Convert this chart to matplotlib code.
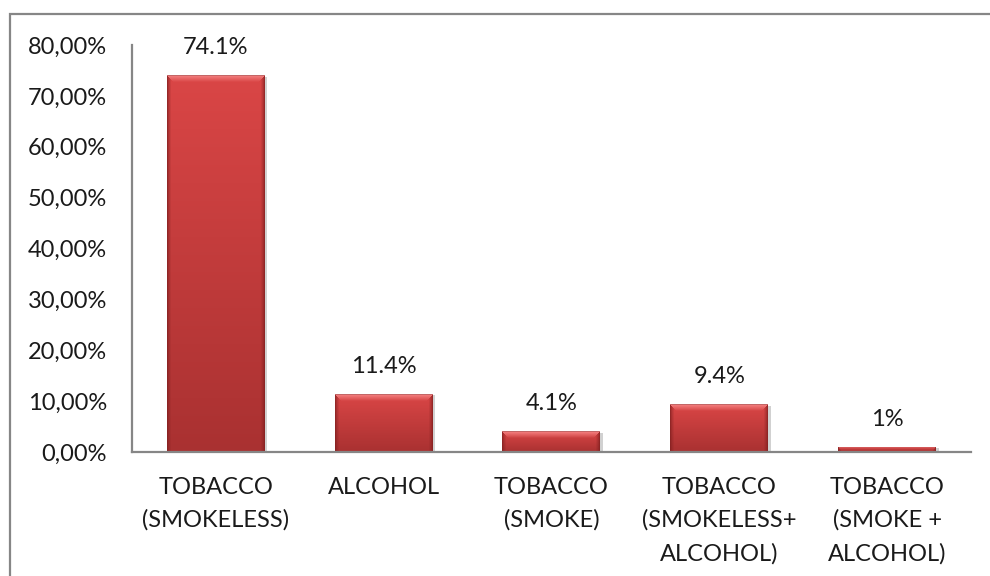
import numpy as np
import matplotlib
matplotlib.use("Agg")
import matplotlib.pyplot as plt
from matplotlib.patches import Rectangle
from matplotlib.colors import to_rgb
import matplotlib.transforms as mtransforms

categories = ["TOBACCO\n(SMOKELESS)", "ALCOHOL", "TOBACCO\n(SMOKE)",
              "TOBACCO\n(SMOKELESS+\nALCOHOL)", "TOBACCO\n(SMOKE +\nALCOHOL)"]
values = [74.1, 11.4, 4.1, 9.4, 1.0]
value_labels = ["74.1%", "11.4%", "4.1%", "9.4%", "1%"]
yticks = [0, 10, 20, 30, 40, 50, 60, 70, 80]
ytick_labels = ["0,00%", "10,00%", "20,00%", "30,00%", "40,00%",
                "50,00%", "60,00%", "70,00%", "80,00%"]

plt.rcParams['font.family'] = ['Lato', 'DejaVu Sans']
FS = 17
GRAY = '#868686'

fig = plt.figure(figsize=(9.9, 5.76), dpi=100)
ax = fig.add_axes([0.1333, 0.2153, 0.8475, 0.7066])
x = np.arange(len(values))
bars = ax.bar(x, values, width=0.584, color='none', edgecolor='none', zorder=3)
ax.set_xlim(-0.5, len(values) - 0.5)
ax.set_ylim(0, 80)

# bevelled red fill for each bar
top_c = np.array(to_rgb('#da4646'))
bot_c = np.array(to_rgb('#a93131'))
light_c = np.array(to_rgb('#f68585'))
dark_c = np.array(to_rgb('#7e1e1e'))
fig.canvas.draw()
for b in bars:
    x0, y0 = b.get_x(), b.get_y()
    w, h = b.get_width(), b.get_height()
    (px0, py0), (px1, py1) = ax.transData.transform([(x0, y0), (x0 + w, y0 + h)])
    wpx = max(int(round(px1 - px0)), 2)
    hpx = max(int(round(py1 - py0)), 2)
    rows = np.arange(hpx)[:, None] + 0.5
    cols = np.arange(wpx)[None, :] + 0.5
    t = rows / hpx
    img = top_c * (1 - t[..., None]) + bot_c * t[..., None]
    img = np.broadcast_to(img, (hpx, wpx, 3)).copy()
    dside = np.minimum(cols, wpx - cols) * np.ones_like(rows)
    dtop = rows * np.ones_like(cols)
    s = min(7.0, hpx * 0.45)
    top_mask = (dtop < s) & (dtop <= dside)
    side_mask = (dside < 4.5) & (dside < dtop)
    f_top = np.clip(dtop / s, 0, 1)[..., None]
    img = np.where(top_mask[..., None], light_c * (1 - f_top) + img * f_top, img)
    f_side = np.clip(dside / 4.5, 0, 1)[..., None] ** 0.6
    img = np.where(side_mask[..., None], dark_c * (1 - f_side) + img * f_side, img)
    # thin darker outline along the top edge
    img[0, :, :] = img[0, :, :] * 0.8
    # soft shadow to the right and below
    shadow = Rectangle((x0, y0), w, h,
                       transform=mtransforms.offset_copy(ax.transData, fig=fig, x=2.5, y=-1.5, units='dots'),
                       facecolor='#000000', alpha=0.18, edgecolor='none', zorder=2)
    ax.add_patch(shadow)
    im = ax.imshow(img, extent=(x0, x0 + w, y0, y0 + h), origin='upper',
                   aspect='auto', interpolation='bilinear', zorder=3)
    im.set_clip_path(b)

ax.set_xlim(-0.5, len(values) - 0.5)
ax.set_ylim(0, 80)

for xi, v, lbl in zip(x, values, value_labels):
    ax.annotate(lbl, (xi, v), xytext=(0, 12), textcoords='offset points',
                ha='center', va='bottom', fontsize=FS, color='#1a1a1a')

ax.set_yticks(yticks, ytick_labels)
ax.set_xticks(x, categories)
ax.tick_params(axis='y', length=0, pad=18, labelsize=FS, labelcolor='#1a1a1a')
ax.tick_params(axis='x', length=0, pad=18, labelsize=FS, labelcolor='#1a1a1a')
for t in ax.get_xticklabels():
    t.set_linespacing(1.66)
    t.set_verticalalignment('top')

for side in ('top', 'right'):
    ax.spines[side].set_visible(False)
for side in ('left', 'bottom'):
    ax.spines[side].set_color(GRAY)
    ax.spines[side].set_linewidth(1.6)
    ax.spines[side].set_zorder(4)

# chart area frame
fig.add_artist(Rectangle((9.5 / 990, -0.2), 1.2, 1.2 - 13.5 / 576, transform=fig.transFigure,
                         fill=False, edgecolor=GRAY, linewidth=1.6))

fig.savefig('out.png', dpi=100)
